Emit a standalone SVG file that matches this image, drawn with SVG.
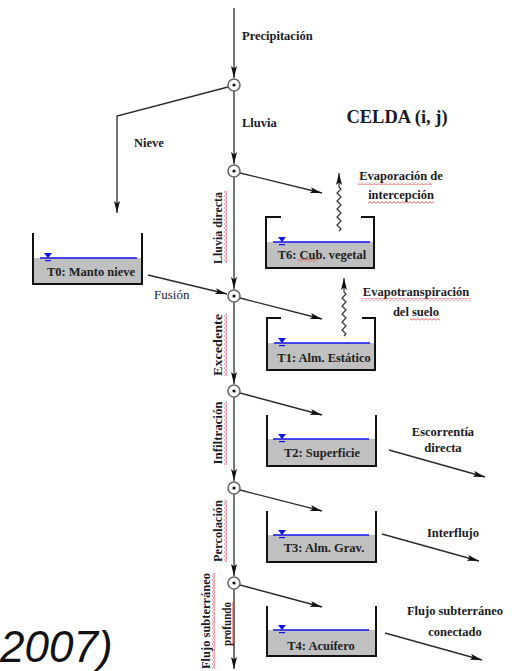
<svg xmlns="http://www.w3.org/2000/svg" width="518" height="671" viewBox="0 0 518 671">
<style>
  .lbl{font-family:"Liberation Serif","Times New Roman",serif;font-weight:bold;font-size:12.5px;fill:#1a1a24}
  .reg{font-family:"Liberation Serif","Times New Roman",serif;font-size:13px;fill:#1a1a30}
  .tk{font-family:"Liberation Serif","Times New Roman",serif;font-weight:bold;font-size:12.5px;fill:#222;text-anchor:middle}
  .ln{stroke:#2a2a2a;stroke-width:1.3;fill:none}
  .arr{stroke:#2a2a2a;stroke-width:1.3;fill:none;marker-end:url(#ah)}
  .wave{stroke:#333;stroke-width:1.2;fill:none;marker-end:url(#ah)}
  .node circle.o{fill:#fff;stroke:#666;stroke-width:1.6}
  .node circle.d{fill:#111}
  .wall{stroke:#111;stroke-width:2;fill:none}
  .fill{fill:#c0c0c0}
  .water{stroke:#1010ee;stroke-width:1.5}
  .sym{fill:#1010ee}
  .sqh{fill:url(#sqh)}
  .sqv{fill:url(#sqv)}
</style>
<defs>
  <marker id="ah" markerUnits="userSpaceOnUse" markerWidth="13" markerHeight="7" refX="12" refY="3" orient="auto">
    <path d="M0,0 L12,3 L0,6 L2.5,3 z" fill="#111"/>
  </marker>
  <pattern id="sqh" width="4" height="3" patternUnits="userSpaceOnUse">
    <path d="M0,2.5 L2,0.5 L4,2.5" stroke="#e02020" stroke-width="0.8" fill="none"/>
  </pattern>
  <pattern id="sqv" width="3" height="4" patternUnits="userSpaceOnUse">
    <path d="M2.5,0 L0.5,2 L2.5,4" stroke="#e02020" stroke-width="0.8" fill="none"/>
  </pattern>
  <g id="wsym">
    <path d="M-4,-5 L4,-5 L0,0 z"/>
    <rect x="-3" y="2" width="6" height="1.2"/>
  </g>
</defs>

<g id="connectors">
  <line class="arr" x1="234" y1="8" x2="234" y2="78"/>
  <line class="arr" x1="234" y1="91" x2="234" y2="164"/>
  <line class="arr" x1="234" y1="177" x2="234" y2="289"/>
  <line class="arr" x1="234" y1="302" x2="234" y2="384"/>
  <line class="arr" x1="234" y1="397" x2="234" y2="481"/>
  <line class="arr" x1="234" y1="494" x2="234" y2="576"/>
  <line class="arr" x1="234" y1="589" x2="234" y2="669"/>
  <polyline class="arr" points="228,87 117,116 117,213"/>
  <line class="arr" x1="148" y1="275" x2="227" y2="294"/>
  <line class="arr" x1="240" y1="173" x2="322" y2="193"/>
  <line class="arr" x1="240" y1="298" x2="322" y2="319"/>
  <line class="arr" x1="240" y1="393" x2="322" y2="415"/>
  <line class="arr" x1="240" y1="490" x2="322" y2="511"/>
  <line class="arr" x1="240" y1="585" x2="322" y2="607"/>
  <line class="arr" x1="389" y1="450" x2="485" y2="477"/>
  <line class="arr" x1="382" y1="534" x2="479" y2="561"/>
  <line class="arr" x1="385" y1="633" x2="482" y2="660"/>
  <path class="wave" d="M339,231 l2,-2 l-4,-4 l4,-4 l-4,-4 l4,-4 l-4,-4 l4,-4 l-4,-4 l4,-4 l-4,-4 l4,-4 l-2,-2 L339,173"/>
  <path class="wave" d="M344,336 l2,-2 l-4,-4 l4,-4 l-4,-4 l4,-4 l-4,-4 l4,-4 l-4,-4 l4,-4 l-4,-4 l4,-4 l-2,-2 L344,278"/>
</g>

<g id="n1" class="node"><circle class="o" cx="234" cy="85" r="6"/><circle class="d" cx="234" cy="85" r="1.6"/></g>
<g id="n2" class="node"><circle class="o" cx="234" cy="171" r="6"/><circle class="d" cx="234" cy="171" r="1.6"/></g>
<g id="n3" class="node"><circle class="o" cx="234" cy="296" r="6"/><circle class="d" cx="234" cy="296" r="1.6"/></g>
<g id="n4" class="node"><circle class="o" cx="234" cy="391" r="6"/><circle class="d" cx="234" cy="391" r="1.6"/></g>
<g id="n5" class="node"><circle class="o" cx="234" cy="488" r="6"/><circle class="d" cx="234" cy="488" r="1.6"/></g>
<g id="n6" class="node"><circle class="o" cx="234" cy="583" r="6"/><circle class="d" cx="234" cy="583" r="1.6"/></g>

<g id="t0">
  <rect class="fill" x="33" y="258" width="109" height="26"/>
  <line class="water" x1="40" y1="258" x2="137" y2="258"/>
  <use href="#wsym" class="sym" x="48" y="258"/>
  <path class="wall" d="M33,233 V284 H142 V233"/>
  <text class="tk" x="91" y="276">T0: Manto nieve</text>
</g>
<g id="t6">
  <rect class="fill" x="266" y="242" width="108" height="26"/>
  <line class="water" x1="273" y1="242" x2="370" y2="242"/>
  <use href="#wsym" class="sym" x="282" y="242"/>
  <path class="wall" d="M281,217 H266 V268 H374 V217 H361"/>
  <text class="tk" x="322" y="259">T6: Cub. vegetal</text>
  <rect class="sqh" x="298" y="259" width="20" height="3"/>
</g>
<g id="t1">
  <rect class="fill" x="267" y="343" width="108" height="27"/>
  <line class="water" x1="274" y1="343" x2="370" y2="343"/>
  <use href="#wsym" class="sym" x="282" y="343"/>
  <path class="wall" d="M281,318 H267 V370 H375 V318 H362"/>
  <text class="tk" x="324" y="362">T1: Alm. Estático</text>
</g>
<g id="t2">
  <rect class="fill" x="267" y="439" width="109" height="27"/>
  <line class="water" x1="273" y1="439" x2="369" y2="439"/>
  <use href="#wsym" class="sym" x="282" y="439"/>
  <path class="wall" d="M267,415 V466 H376 V415"/>
  <text class="tk" x="322" y="457">T2: Superficie</text>
</g>
<g id="t3">
  <rect class="fill" x="267" y="535" width="109" height="27"/>
  <line class="water" x1="273" y1="535" x2="369" y2="535"/>
  <use href="#wsym" class="sym" x="282" y="535"/>
  <path class="wall" d="M267,511 V562 H376 V511"/>
  <text class="tk" x="324" y="552">T3: Alm. Grav.</text>
</g>
<g id="t4">
  <rect class="fill" x="267" y="630" width="109" height="26"/>
  <line class="water" x1="273" y1="630" x2="369" y2="630"/>
  <use href="#wsym" class="sym" x="282" y="630"/>
  <path class="wall" d="M267,606 V656 H376 V606"/>
  <text class="tk" x="321" y="650">T4: Acuífero</text>
</g>

<g id="labels">
  <text class="lbl" x="242" y="40">Precipitación</text>
  <text class="lbl" x="242" y="127">Lluvia</text>
  <text class="lbl" x="134" y="147">Nieve</text>
  <text class="reg" x="154" y="299">Fusión</text>
  <text x="397" y="123" style="font-family:'Liberation Serif','Times New Roman',serif;font-weight:bold;font-size:18.5px;fill:#1a1a24;text-anchor:middle">CELDA (i, j)</text>

  <text class="lbl" x="401" y="180" text-anchor="middle">Evaporación de</text>
  <rect class="sqh" x="358" y="182" width="74" height="3"/>
  <text class="lbl" x="401" y="199" text-anchor="middle">intercepción</text>
  <rect class="sqh" x="368" y="201" width="66" height="3"/>
  <text class="lbl" x="416" y="296" text-anchor="middle">Evapotranspiración</text>
  <rect class="sqh" x="361" y="298" width="110" height="3"/>
  <text class="lbl" x="416" y="316" text-anchor="middle">del suelo</text>
  <rect class="sqh" x="410" y="318" width="30" height="3"/>

  <text class="lbl" x="443" y="436" text-anchor="middle">Escorrentía</text>
  <text class="lbl" x="443" y="452" text-anchor="middle">directa</text>
  <text class="lbl" x="453" y="537" text-anchor="middle">Interflujo</text>
  <text class="lbl" x="455" y="615" text-anchor="middle">Flujo subterráneo</text>
  <text class="lbl" x="455" y="636" text-anchor="middle">conectado</text>

  <text class="lbl" transform="translate(218,228) rotate(-90)" y="4" text-anchor="middle" textLength="72" lengthAdjust="spacingAndGlyphs">Lluvia directa</text>
  <rect class="sqv" x="224" y="191" width="3" height="72"/>
  <text class="lbl" transform="translate(218,345) rotate(-90)" y="4" text-anchor="middle" textLength="62" lengthAdjust="spacingAndGlyphs">Excedente</text>
  <rect class="sqv" x="224" y="314" width="3" height="62"/>
  <text class="lbl" transform="translate(218,433) rotate(-90)" y="4" text-anchor="middle" textLength="63" lengthAdjust="spacingAndGlyphs">Infiltración</text>
  <rect class="sqv" x="224" y="402" width="3" height="63"/>
  <text class="lbl" transform="translate(218,531) rotate(-90)" y="4" text-anchor="middle" textLength="62" lengthAdjust="spacingAndGlyphs">Percolación</text>
  <rect class="sqv" x="224" y="500" width="3" height="62"/>
  <text class="lbl" transform="translate(206,621) rotate(-90)" y="4" text-anchor="middle" textLength="96" lengthAdjust="spacingAndGlyphs">Flujo subterráneo</text>
  <rect class="sqv" x="212" y="573" width="3" height="96"/>
  <text class="lbl" transform="translate(227,624) rotate(-90)" y="4" text-anchor="middle" textLength="44" lengthAdjust="spacingAndGlyphs">profundo</text>
  <rect class="sqv" x="232" y="602" width="2.5" height="44"/>

  <text x="0" y="662" style="font-family:'Liberation Sans',Arial,sans-serif;font-style:italic;font-size:44px;fill:#111">2007)</text>
</g>
</svg>
